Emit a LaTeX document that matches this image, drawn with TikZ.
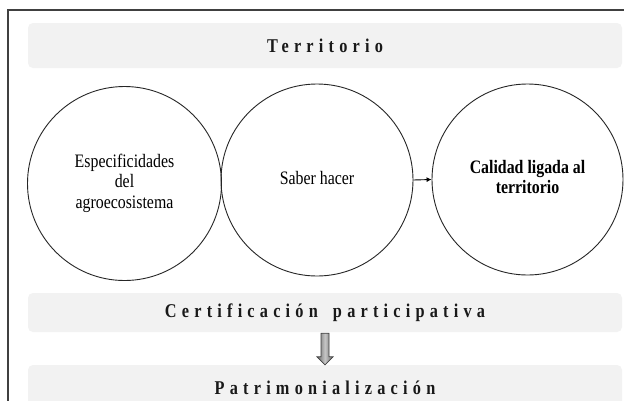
\documentclass[tikz,border=0pt]{standalone}
\usepackage{fontspec}
\setmainfont{Liberation Serif}
\usepackage{graphicx}
\usetikzlibrary{calc,arrows.meta}
\definecolor{bandgray}{HTML}{F2F2F2}
\definecolor{framegray}{HTML}{404040}
\definecolor{arrowgray}{HTML}{666666}
\newcommand{\sqz}[1]{\scalebox{0.835}[1]{#1}}
\newcommand{\circtext}[1]{\sqz{\fontsize{19}{20.5}\selectfont\begin{tabular}{@{}c@{}}#1\end{tabular}}}
\newcommand{\bandtext}[1]{\sqz{\fontsize{19.5}{21}\selectfont\bfseries\addfontfeature{LetterSpace=32}#1}}
\begin{document}
\begin{tikzpicture}[x=1pt,y=-1pt,
  band/.style={draw=none,fill=bandgray,rounded corners=5pt,minimum width=594pt,inner sep=0pt,text=black!90},
  ring/.style={circle,draw=black!85,line width=0.9pt,inner sep=0pt},
  link/.style={line width=0.9pt,-{Latex[length=5pt,width=5pt]}}]
\useasboundingbox (0,0) rectangle (624,400);
\clip (0,0) rectangle (624,400);
\fill[white] (0,0) rectangle (624,400);
% frame
\draw[framegray,line width=1.2pt] (8,420) -- (8,10) -- (640,10);
% bands
\node[band,minimum height=45pt] (terr) at (325,45.5) {\bandtext{Territorio}};
\node[band,minimum height=39pt] (cert) at (325,312.5) {\bandtext{Certificación\hspace{7pt} participativa}};
\node[band,minimum height=46pt] (patr) at (325,388) {\bandtext{Patrimonialización}};
% circles
\node[ring,minimum size=194pt] (esp) at (124.5,183.5) {\circtext{Especificidades\\del\\agroecosistema}};
\node[ring,minimum size=192pt] (sab) at (317,180) {\circtext{Saber hacer}};
\node[ring,minimum size=191pt] (cal) at (527.5,179.5) {\circtext{\bfseries Calidad ligada al\\\bfseries territorio}};
\draw[link] (sab.east) -- (cal.west);
% block arrow
\path[draw=framegray,line width=0.7pt,left color=arrowgray,right color=arrowgray,middle color=gray!45]
  ($(cert.south)+(-4,1)$) -- ($(cert.south)+(4,1)$) -- ($(patr.north)+(4,-8)$)
  -- ($(patr.north)+(8,-8)$) -- (patr.north) -- ($(patr.north)+(-8,-8)$)
  -- ($(patr.north)+(-4,-8)$) -- cycle;
\end{tikzpicture}
\end{document}
